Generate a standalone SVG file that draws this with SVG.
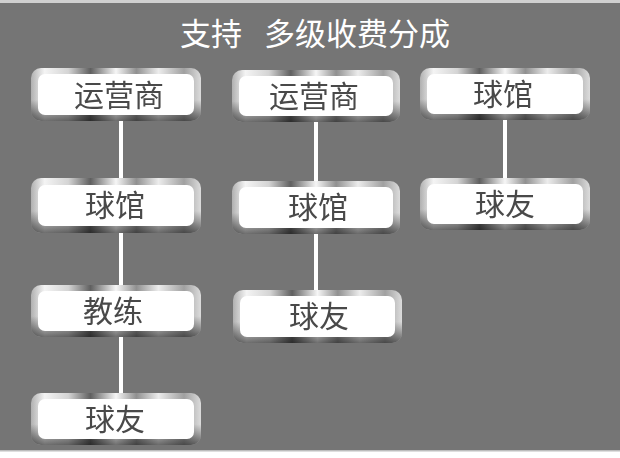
<svg xmlns="http://www.w3.org/2000/svg" width="620" height="458" viewBox="0 0 620 458">
<defs>
  <linearGradient id="chromeH" x1="0" y1="0" x2="1" y2="0">
    <stop offset="0" stop-color="#b0b0b0"/>
    <stop offset="0.08" stop-color="#f4f4f4"/>
    <stop offset="0.22" stop-color="#d4d4d4"/>
    <stop offset="0.35" stop-color="#606060"/>
    <stop offset="0.5" stop-color="#f6f6f6"/>
    <stop offset="0.62" stop-color="#909090"/>
    <stop offset="0.75" stop-color="#ececec"/>
    <stop offset="0.9" stop-color="#a0a0a0"/>
    <stop offset="1" stop-color="#dcdcdc"/>
  </linearGradient>
  <linearGradient id="chromeV" x1="0" y1="0" x2="0" y2="1">
    <stop offset="0" stop-color="#000" stop-opacity="0"/>
    <stop offset="0.6" stop-color="#000" stop-opacity="0"/>
    <stop offset="0.85" stop-color="#000" stop-opacity="0.35"/>
    <stop offset="1" stop-color="#000" stop-opacity="0.55"/>
  </linearGradient>
  <filter id="soft" x="-5%" y="-5%" width="110%" height="110%">
    <feGaussianBlur stdDeviation="0.5"/>
  </filter>
</defs>
<style>
  .bg { fill: #757575; }
  .frame { fill: url(#chromeH); }
  .shade { fill: url(#chromeV); }
  .inner { fill: #ffffff; }
  .lbl { font-family: "Noto Sans CJK SC", "Noto Sans", sans-serif; font-size: 30px; fill: #4a4a4a; text-anchor: middle; }
  .title { font-family: "Noto Sans CJK SC", "Noto Sans", sans-serif; font-size: 31px; fill: #ffffff; text-anchor: middle; }
  .conn line { stroke: #ffffff; stroke-width: 4; }
</style>
<rect x="0" y="0" width="620" height="458" fill="#ffffff"/>
<rect x="0" y="0" width="620" height="3" fill="#d0d0d0"/>
<rect class="bg" x="0" y="3" width="620" height="447"/>
<rect x="0" y="450" width="620" height="1.5" fill="#bdbdbd"/>

<text class="title" y="45"><tspan x="211">支持</tspan><tspan x="357">多级收费分成</tspan></text>

<g class="conn">
  <line x1="121" y1="120" x2="121" y2="180"/>
  <line x1="121" y1="231" x2="121" y2="287"/>
  <line x1="121" y1="335" x2="121" y2="395"/>
  <line x1="316" y1="120" x2="316" y2="183"/>
  <line x1="316" y1="232" x2="316" y2="292"/>
  <line x1="505" y1="118" x2="505" y2="180"/>
</g>

<g id="c1-operator">
  <rect class="frame" x="31" y="68" width="170" height="53" rx="10"/>
  <rect class="shade" x="31" y="68" width="170" height="53" rx="10"/>
  <rect class="inner" x="38" y="74" width="156" height="41" rx="7"/>
  <text class="lbl" x="119" y="106" filter="url(#soft)">运营商</text>
</g>
<g id="c1-venue">
  <rect class="frame" x="31" y="178" width="170" height="55" rx="10"/>
  <rect class="shade" x="31" y="178" width="170" height="55" rx="10"/>
  <rect class="inner" x="38" y="185" width="156" height="41" rx="7"/>
  <text class="lbl" x="115" y="216" filter="url(#soft)">球馆</text>
</g>
<g id="c1-coach">
  <rect class="frame" x="31" y="285" width="170" height="52" rx="10"/>
  <rect class="shade" x="31" y="285" width="170" height="52" rx="10"/>
  <rect class="inner" x="38" y="291" width="156" height="40" rx="7"/>
  <text class="lbl" x="113" y="322" filter="url(#soft)">教练</text>
</g>
<g id="c1-player">
  <rect class="frame" x="31" y="393" width="170" height="52" rx="10"/>
  <rect class="shade" x="31" y="393" width="170" height="52" rx="10"/>
  <rect class="inner" x="38" y="399" width="156" height="40" rx="7"/>
  <text class="lbl" x="115" y="430" filter="url(#soft)">球友</text>
</g>

<g id="c2-operator">
  <rect class="frame" x="232" y="70" width="168" height="52" rx="10"/>
  <rect class="shade" x="232" y="70" width="168" height="52" rx="10"/>
  <rect class="inner" x="239" y="76" width="154" height="40" rx="7"/>
  <text class="lbl" x="314" y="107" filter="url(#soft)">运营商</text>
</g>
<g id="c2-venue">
  <rect class="frame" x="232" y="181" width="168" height="53" rx="10"/>
  <rect class="shade" x="232" y="181" width="168" height="53" rx="10"/>
  <rect class="inner" x="239" y="187" width="154" height="41" rx="7"/>
  <text class="lbl" x="318" y="218" filter="url(#soft)">球馆</text>
</g>
<g id="c2-player">
  <rect class="frame" x="233" y="290" width="169" height="53" rx="10"/>
  <rect class="shade" x="233" y="290" width="169" height="53" rx="10"/>
  <rect class="inner" x="240" y="296" width="155" height="41" rx="7"/>
  <text class="lbl" x="319" y="327" filter="url(#soft)">球友</text>
</g>

<g id="c3-venue">
  <rect class="frame" x="420" y="68" width="170" height="52" rx="10"/>
  <rect class="shade" x="420" y="68" width="170" height="52" rx="10"/>
  <rect class="inner" x="427" y="74" width="156" height="40" rx="7"/>
  <text class="lbl" x="503" y="105" filter="url(#soft)">球馆</text>
</g>
<g id="c3-player">
  <rect class="frame" x="420" y="178" width="170" height="52" rx="10"/>
  <rect class="shade" x="420" y="178" width="170" height="52" rx="10"/>
  <rect class="inner" x="427" y="184" width="156" height="40" rx="7"/>
  <text class="lbl" x="505" y="215" filter="url(#soft)">球友</text>
</g>
</svg>
